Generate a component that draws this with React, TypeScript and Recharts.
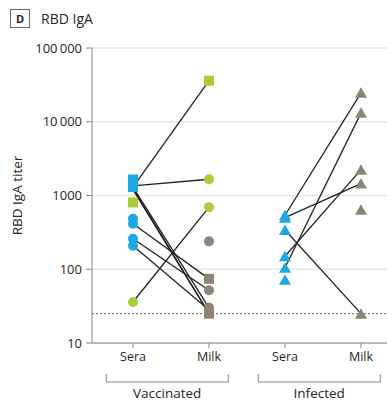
import React from "react";
import {
  ComposedChart,
  Line,
  Scatter,
  XAxis,
  YAxis,
  CartesianGrid,
  ReferenceLine,
} from "recharts";

const categories = ["Sera", "Milk", "Sera", "Milk"];
const groups = ["Vaccinated", "Infected"];
const yTicks = [10, 100, 1000, 10000, 100000];
const LOD = 25;

// vaccinated, sera (x = 1)
const vacSeraBlueSquares = [1650, 1300];
const vacSeraGreenSquares = [806];
const vacSeraBlueCircles = [484, 414, 259, 208];
const vacSeraGreenCircles = [36];
// vaccinated, milk (x = 2)
const vacMilkGreenSquares = [36000];
const vacMilkGreenCircles = [1660, 695];
const vacMilkBrownCircles = [239, 52, 30];
const vacMilkBrownSquares = [74, 25];
// infected, sera (x = 3) and milk (x = 4)
const infSera = [540, 500, 340, 150, 105, 72];
const infMilk = [24700, 13200, 2240, 1450, 640, 25];

// paired samples: [sera, milk]
const vacPairs = [
  [1300, 36000],
  [1350, 1660],
  [1300, 30],
  [1250, 25],
  [1200, 25],
  [414, 74],
  [259, 52],
  [208, 28],
  [36, 695],
];
const infPairs = [
  [540, 24700],
  [500, 1450],
  [340, 25],
  [150, 2240],
  [105, 13200],
];

const BLUE = "#1CA8E2";
const GREEN = "#A9CF38";
const BROWN = "#8C8475";
const FONT = "'Open Sans', sans-serif";
const TEXT = "#262626";

const pts = (values: number[], x: number) => values.map((y) => ({ x, y }));

const square = (color: string) => (p: any) => (
  <rect x={p.cx - 5} y={p.cy - 5} width={10} height={10} fill={color} />
);
const circle = (color: string) => (p: any) => (
  <circle cx={p.cx} cy={p.cy} r={5} fill={color} />
);
const triangle = (color: string) => (p: any) => (
  <path
    d={`M${p.cx},${p.cy - 5.5} L${p.cx + 6},${p.cy + 5} L${p.cx - 6},${p.cy + 5} Z`}
    fill={color}
  />
);

const fmtTick = (v: number) =>
  v >= 10000 ? String(v).replace(/(\d)(?=(\d{3})+$)/g, "$1\u2009") : String(v);

const GroupTick = (props: any) => {
  const { x, y, index } = props;
  const label = groups[index];
  return (
    <g>
      <path
        d={`M${x - 61},${y + 3} V${y + 11} H${x + 61} V${y + 3}`}
        fill="none"
        stroke="#888"
        strokeWidth={1}
      />
      <text
        x={x}
        y={y + 27}
        textAnchor="middle"
        fontSize={13.5}
        fill={TEXT}
        fontFamily={FONT}
      >
        {label}
      </text>
    </g>
  );
};

export default function App() {
  const lines = [
    ...vacPairs.map(([a, b]) => [
      { x: 1, y: a },
      { x: 2, y: b },
    ]),
    ...infPairs.map(([a, b]) => [
      { x: 3, y: a },
      { x: 4, y: b },
    ]),
  ];

  return (
    <div style={{ position: "absolute", left: 0, top: 0, width: 387, height: 402, background: "#fff", fontFamily: FONT }}>
      <div
        style={{
          position: "absolute",
          left: 10,
          top: 9,
          width: 18,
          height: 17,
          border: "1.5px solid #666",
          fontSize: 11,
          fontWeight: 700,
          color: "#222",
          textAlign: "center",
          lineHeight: "17px",
        }}
      >
        D
      </div>
      <div style={{ position: "absolute", left: 41, top: 9, fontSize: 14, color: TEXT, lineHeight: "20px" }}>
        RBD IgA
      </div>
      <ComposedChart width={387} height={402} margin={{ top: 48, right: 0, bottom: 0, left: 0 }}>
        <CartesianGrid vertical={false} stroke="#e6e6e6" strokeWidth={1.5} />
        <XAxis
          dataKey="x"
          type="number"
          domain={[0.4605, 4.342]}
          allowDataOverflow
          ticks={[1, 2, 3, 4]}
          tickFormatter={(v: number) => categories[v - 1]}
          height={28}
          tickSize={5}
          tickMargin={4}
          stroke="#888"
          tick={{ fill: TEXT, fontSize: 12.5, fontFamily: FONT }}
        />
        <XAxis
          xAxisId="group"
          dataKey="x"
          type="number"
          domain={[0.4605, 4.342]}
          allowDataOverflow
          ticks={[1.45, 3.45]}
          height={31}
          tickSize={0}
          tickMargin={0}
          axisLine={false}
          tickLine={false}
          tick={<GroupTick />}
        />
        <YAxis
          type="number"
          scale="log"
          domain={[10, 100000]}
          allowDataOverflow
          ticks={yTicks}
          tickFormatter={fmtTick}
          width={92}
          tickSize={6}
          tickMargin={4}
          stroke="#888"
          tick={{ fill: TEXT, fontSize: 13, fontFamily: FONT }}
          label={{
            value: "RBD IgA titer",
            angle: -90,
            position: "insideLeft",
            offset: 17,
            style: { textAnchor: "middle", fill: TEXT, fontSize: 13.5, fontFamily: FONT },
          }}
        />
        <ReferenceLine y={LOD} stroke="#666" strokeDasharray="2 2" strokeWidth={1} />
        {lines.map((d, i) => (
          <Line
            key={`l${i}`}
            data={d}
            dataKey="y"
            type="linear"
            stroke="#222"
            strokeWidth={1.3}
            dot={false}
            activeDot={false}
            isAnimationActive={false}
          />
        ))}
        <Scatter data={pts(vacSeraBlueSquares, 1)} dataKey="y" shape={square(BLUE)} isAnimationActive={false} />
        <Scatter data={pts(vacSeraGreenSquares, 1)} dataKey="y" shape={square(GREEN)} isAnimationActive={false} />
        <Scatter data={pts(vacSeraBlueCircles, 1)} dataKey="y" shape={circle(BLUE)} isAnimationActive={false} />
        <Scatter data={pts(vacSeraGreenCircles, 1)} dataKey="y" shape={circle(GREEN)} isAnimationActive={false} />
        <Scatter data={pts(vacMilkGreenSquares, 2)} dataKey="y" shape={square(GREEN)} isAnimationActive={false} />
        <Scatter data={pts(vacMilkGreenCircles, 2)} dataKey="y" shape={circle(GREEN)} isAnimationActive={false} />
        <Scatter data={pts(vacMilkBrownCircles, 2)} dataKey="y" shape={circle(BROWN)} isAnimationActive={false} />
        <Scatter data={pts(vacMilkBrownSquares, 2)} dataKey="y" shape={square(BROWN)} isAnimationActive={false} />
        <Scatter data={pts(infSera, 3)} dataKey="y" shape={triangle(BLUE)} isAnimationActive={false} />
        <Scatter data={pts(infMilk, 4)} dataKey="y" shape={triangle(BROWN)} isAnimationActive={false} />
      </ComposedChart>
    </div>
  );
}
